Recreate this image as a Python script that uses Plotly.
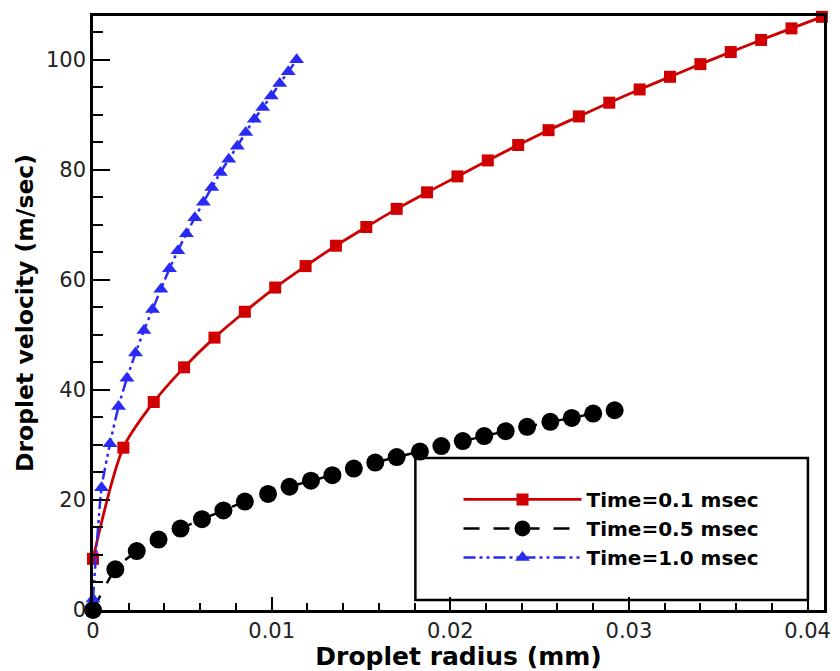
import plotly.graph_objects as go

# ---- data ----
red_x = [0, 0.0017, 0.0034, 0.0051, 0.0068, 0.0085, 0.0102, 0.0119, 0.0136, 0.0153, 0.0170, 0.0187,
         0.0204, 0.0221, 0.0238, 0.0255, 0.0272, 0.0289, 0.0306, 0.0323, 0.0340, 0.0357, 0.0374, 0.0391, 0.0408]
red_y = [9.3, 29.5, 37.8, 44.1, 49.5, 54.2, 58.6, 62.5, 66.2, 69.6, 72.9, 75.9,
         78.8, 81.7, 84.5, 87.2, 89.7, 92.2, 94.6, 96.9, 99.2, 101.4, 103.6, 105.7, 107.8]

black_x = [0, 0.00125, 0.00245, 0.00367, 0.0049, 0.0061, 0.0073, 0.0085, 0.0098, 0.0110, 0.0122, 0.0134,
           0.0146, 0.0158, 0.0170, 0.0183, 0.0195, 0.0207, 0.0219, 0.0231, 0.0243, 0.0256, 0.0268, 0.0280, 0.0292]
black_y = [0, 7.4, 10.7, 12.8, 14.8, 16.5, 18.1, 19.7, 21.1, 22.4, 23.5, 24.5,
           25.7, 26.8, 27.8, 28.8, 29.8, 30.7, 31.6, 32.5, 33.3, 34.2, 34.9, 35.7, 36.3]

blue_x = [0, 0.00048, 0.00095, 0.00143, 0.0019, 0.00238, 0.00285, 0.00333, 0.0038, 0.00428, 0.00475, 0.00523,
          0.0057, 0.00618, 0.00665, 0.00713, 0.0076, 0.00808, 0.00855, 0.00903, 0.0095, 0.00998, 0.01045, 0.01093, 0.0114]
blue_y = [2.0, 22.2, 30.2, 37.0, 42.1, 46.7, 50.8, 54.6, 58.3, 62.0, 65.3, 68.4,
          71.3, 74.1, 76.8, 79.5, 81.9, 84.3, 86.8, 89.2, 91.3, 93.4, 95.7, 97.8, 100.0]

series_names = ["Time=0.1 msec", "Time=0.5 msec", "Time=1.0 msec"]
x_tick_vals = [0, 0.01, 0.02, 0.03, 0.04]
x_tick_text = ["0", "0.01", "0.02", "0.03", "0.04"]
y_tick_vals = [0, 20, 40, 60, 80, 100]
y_tick_text = ["0", "20", "40", "60", "80", "100"]

FONT = "DejaVu Sans, Liberation Sans, Arial, sans-serif"

fig = go.Figure()
fig.add_trace(go.Scatter(
    x=red_x, y=red_y, name=series_names[0], mode="lines+markers",
    line=dict(color="#cc0000", width=2.8, shape="spline", smoothing=0.8),
    marker=dict(symbol="square", size=12, color="#d00000"),
    cliponaxis=False))
fig.add_trace(go.Scatter(
    x=black_x, y=black_y, name=series_names[1], mode="lines+markers",
    line=dict(color="black", width=2.5, dash="16px,14px", shape="spline", smoothing=0.6),
    marker=dict(symbol="circle", size=18, color="black"),
    cliponaxis=False))
fig.add_trace(go.Scatter(
    x=blue_x, y=blue_y, name=series_names[2], mode="lines+markers",
    line=dict(color="#2a2af5", width=2.5, dash="12px,4px,3px,4px,3px,4px", shape="spline", smoothing=0.6),
    marker=dict(symbol="triangle-up", size=13, color="#2a2af5"),
    cliponaxis=False))

axis_common = dict(
    showgrid=False, zeroline=False, showline=True, linecolor="black", linewidth=2.5,
    mirror=True, ticks="inside", tickcolor="black", tickwidth=2,
    tickfont=dict(family=FONT, size=21, color="#222"),
)

fig.update_xaxes(
    **axis_common, range=[0, 0.04092], tickvals=x_tick_vals, ticktext=x_tick_text, ticklen=13,
    minor=dict(dtick=0.002, ticks="inside", ticklen=7, tickwidth=1.5, tickcolor="black"),
    title=dict(text="<b>Droplet radius (mm)</b>", font=dict(family=FONT, size=25, color="black"), standoff=2),
)
fig.update_yaxes(
    **axis_common, range=[0, 107.95], tickvals=y_tick_vals, ticktext=y_tick_text, ticklen=17,
    minor=dict(dtick=5, ticks="inside", ticklen=10, tickwidth=1.5, tickcolor="black"),
    title=dict(text="<b>Droplet velocity (m/sec)</b>", font=dict(family=FONT, size=23.5, color="black"), standoff=6),
)

# legend frame
fig.add_shape(type="rect", xref="paper", yref="paper", x0=0.441, x1=0.978, y0=0.017, y1=0.256,
              line=dict(color="black", width=2.5), fillcolor="white", layer="below")

fig.update_layout(
    width=840, height=671,
    margin=dict(l=93, r=9, t=16, b=58),
    paper_bgcolor="white", plot_bgcolor="white",
    showlegend=True,
    legend=dict(
        x=0.50, y=0.219, xanchor="left", yanchor="top",
        bgcolor="rgba(0,0,0,0)", borderwidth=0,
        font=dict(family=FONT, size=20, color="black", weight="bold"),
        itemwidth=118, tracegroupgap=0,
    ),
)

fig.write_html("out.html")
